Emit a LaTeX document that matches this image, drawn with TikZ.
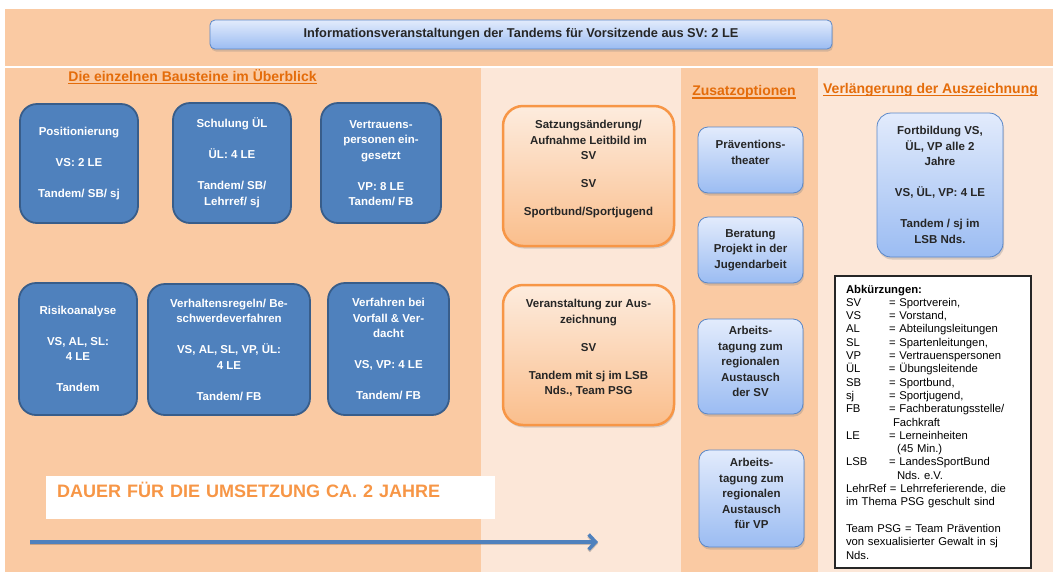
\documentclass[tikz,border=0pt]{standalone}
\usepackage{fontspec}
\setmainfont{Liberation Sans}
\usetikzlibrary{arrows.meta,shadows}
\newcommand{\headunder}[1]{\setbox0\hbox{#1}\rlap{\vrule width\wd0 height -1.7pt depth 2.9pt}\box0}
\definecolor{peach}{RGB}{250,202,163}
\definecolor{lightpeach}{RGB}{252,231,216}
\definecolor{boxblue}{RGB}{79,129,189}
\definecolor{boxedge}{RGB}{56,93,138}
\definecolor{orangeedge}{RGB}{247,150,70}
\definecolor{headorange}{RGB}{228,108,10}
\definecolor{otop}{RGB}{253,236,222}
\definecolor{obottom}{RGB}{250,190,140}
\definecolor{ltop}{RGB}{226,235,252}
\definecolor{lbottom}{RGB}{155,188,242}
\definecolor{optedge}{RGB}{90,135,200}
\definecolor{darktext}{RGB}{38,38,38}
\begin{document}
\begin{tikzpicture}[x=1pt,y=-1pt,
        bluebox/.style={draw=boxedge,fill=boxblue,line width=1.8pt,rounded corners=17pt,
            text=white,font=\bfseries\fontsize{11.5}{15.5}\selectfont,align=center,inner sep=2pt},
        orangebox/.style={draw=orangeedge,line width=2.5pt,rounded corners=20pt,
            top color=otop,bottom color=obottom,
            drop shadow={shadow xshift=1pt,shadow yshift=-2.5pt,opacity=.3},
            text=darktext,font=\bfseries\fontsize{11.5}{15.5}\selectfont,align=center,inner sep=2pt},
        optbox/.style={draw=optedge,line width=.8pt,rounded corners=10pt,
            top color=ltop,bottom color=lbottom,
            drop shadow={shadow xshift=1pt,shadow yshift=-2.5pt,opacity=.3},
            text=darktext,font=\bfseries\fontsize{11.5}{15.5}\selectfont,align=center,inner sep=2pt},
        heading/.style={text=headorange,font=\bfseries\fontsize{14}{16}\selectfont,inner sep=0pt}]
    \fill[white] (0,0) rectangle (1053,574);
    \useasboundingbox (0,0) rectangle (1053,574);
    \fill[peach] (5,9) rectangle (1053,66);
    \fill[peach] (5,68) rectangle (481,572);
    \fill[lightpeach] (481,68) rectangle (681,572);
    \fill[peach] (681,68) rectangle (818,572);
    \fill[lightpeach] (818,68) rectangle (1053,572);

    \node[optbox,rounded corners=5pt,minimum width=622pt,minimum height=29pt,
        font=\bfseries\fontsize{12.8}{15}\selectfont] (title) at (521,34.5)
        {Informationsveranstaltungen der Tandems für Vorsitzende aus SV: 2 LE};

    \node[heading] (bausteine) at (192.5,76.5) {\headunder{Die einzelnen Bausteine im Überblick}};
    \node[heading] (zusatz) at (744,92) {\headunder{Zusatzoptionen}};
    \node[heading] (verlaengerung) at (930.5,90) {\headunder{Verlängerung der Auszeichnung}};

    \node[bluebox,minimum width=118pt,minimum height=119pt] (pos) at (79,163.5)
        {Positionierung\\[15.5pt]VS: 2 LE\\[15.5pt]Tandem/ SB/ sj};
    \node[bluebox,minimum width=118pt,minimum height=120pt] (schul) at (232,163)
        {Schulung ÜL\\[15.5pt]ÜL: 4 LE\\[15.5pt]Tandem/ SB/\\Lehrref/ sj};
    \node[bluebox,minimum width=120pt,minimum height=120pt] (vertr) at (381,163)
        {Vertrauens-\\personen ein-\\gesetzt\\[15.5pt]VP: 8 LE\\Tandem/ FB};
    \node[bluebox,minimum width=118pt,minimum height=132pt] (risiko) at (78,349)
        {Risikoanalyse\\[15.5pt]VS, AL, SL:\\4 LE\\[15.5pt]Tandem};
    \node[bluebox,minimum width=162pt,minimum height=131pt] (verhalt) at (229,349.5)
        {Verhaltensregeln/ Be-\\schwerdeverfahren\\[15.5pt]VS, AL, SL, VP, ÜL:\\4 LE\\[15.5pt]Tandem/ FB};
    \node[bluebox,minimum width=121pt,minimum height=132pt] (verfahr) at (388.5,349)
        {Verfahren bei\\Vorfall \& Ver-\\dacht\\[15.5pt]VS, VP: 4 LE\\[15.5pt]Tandem/ FB};

    \node[orangebox,minimum width=171pt,minimum height=140pt] (satzung) at (588.5,176)
        {Satzungsänderung/\\Aufnahme Leitbild im\\SV\\[12.5pt]SV\\[12.5pt]Sportbund/Sportjugend\\\mbox{}};
    \node[orangebox,minimum width=171pt,minimum height=140pt] (feier) at (588.5,355)
        {Veranstaltung zur Aus-\\zeichnung\\[12.5pt]SV\\[12.5pt]Tandem mit sj im LSB\\Nds., Team PSG\\\mbox{}};

    \node[optbox,minimum width=105pt,minimum height=66pt] (theater) at (750.5,160)
        {Präventions-\\theater\\\mbox{}};
    \node[optbox,minimum width=105pt,minimum height=66pt] (beratung) at (750.5,250)
        {Beratung\\Projekt in der\\Jugendarbeit};
    \node[optbox,minimum width=105pt,minimum height=95pt] (tagungsv) at (750.5,366.5)
        {Arbeits-\\tagung zum\\regionalen\\Austausch\\der SV\\[-6pt]\mbox{}};
    \node[optbox,minimum width=105pt,minimum height=97pt] (tagungvp) at (751.5,498.5)
        {Arbeits-\\tagung zum\\regionalen\\Austausch\\für VP\\[-6pt]\mbox{}};

    \node[optbox,rounded corners=14pt,minimum width=126pt,minimum height=144pt] (fortbildung) at (940,185)
        {Fortbildung VS,\\ÜL, VP alle 2\\Jahre\\[15.5pt]VS, ÜL, VP: 4 LE\\[15.5pt]Tandem / sj im\\LSB Nds.};

    \node[draw=black!85,fill=white,line width=1.8pt,minimum width=196pt,minimum height=292pt,
        text width=174pt,align=left,inner xsep=10pt,font=\fontsize{11.3}{13.3}\selectfont] (legende) at (933,422)
        {\textbf{Abkürzungen:}\\
        \makebox[43pt][l]{SV}= Sportverein,\\
        \makebox[43pt][l]{VS}= Vorstand,\\
        \makebox[43pt][l]{AL}= Abteilungsleitungen\\
        \makebox[43pt][l]{SL}= Spartenleitungen,\\
        \makebox[43pt][l]{VP}= Vertrauenspersonen\\
        \makebox[43pt][l]{ÜL}= Übungsleitende\\
        \makebox[43pt][l]{SB}= Sportbund,\\
        \makebox[43pt][l]{sj}= Sportjugend,\\
        \makebox[43pt][l]{FB}= Fachberatungsstelle/\\
        \hspace*{47pt}Fachkraft\\
        \makebox[43pt][l]{LE}= Lerneinheiten\\
        \hspace*{51pt}(45 Min.)\\
        \makebox[43pt][l]{LSB}= LandesSportBund\\
        \hspace*{51pt}Nds.\ e.V.\\
        LehrRef = Lehrreferierende, die\\
        im Thema PSG geschult sind\\[13.3pt]
        Team PSG = Team Prävention\\
        von sexualisierter Gewalt in sj\\
        Nds.};

    \node[fill=white,anchor=north west,text width=427pt,align=left,inner xsep=11pt,inner ysep=8pt,
        text height=13pt,text depth=14pt,text=orangeedge,font=\bfseries\fontsize{18}{20}\selectfont] (dauer) at (46,476)
        {DAUER FÜR DIE UMSETZUNG CA. 2 JAHRE};

    \coordinate (start) at (30,542);
    \coordinate (ende) at (598,542);
    \draw[black,opacity=.2,line width=3.5pt,-{Straight Barb[length=7pt,width=15pt]},
        transform canvas={yshift=-1.5pt}] (start) -- (ende);
    \draw[boxblue,line width=3.5pt,-{Straight Barb[length=7pt,width=15pt]}] (start) -- (ende);
\end{tikzpicture}
\end{document}
